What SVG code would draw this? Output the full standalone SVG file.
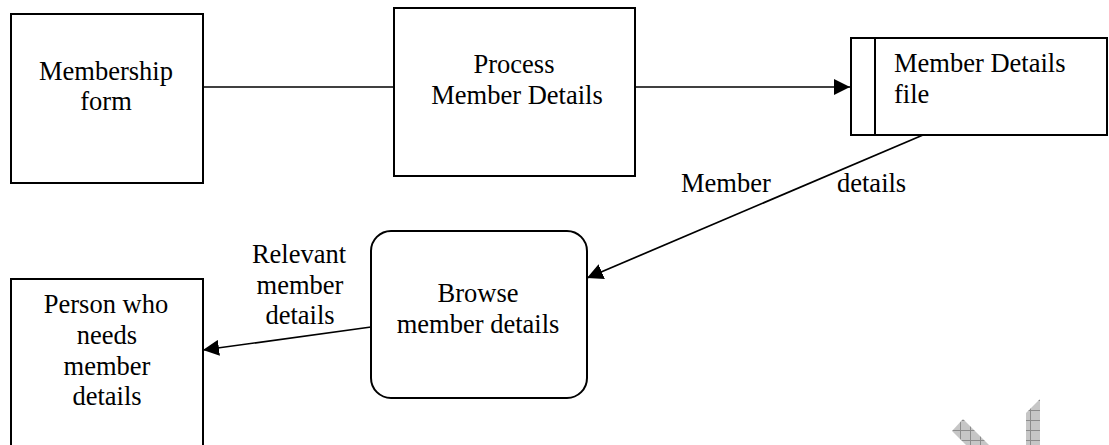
<svg xmlns="http://www.w3.org/2000/svg" width="1109" height="445" viewBox="0 0 1109 445">
  <style>
    .box { fill: #ffffff; stroke: #000000; stroke-width: 2; }
    .flow { fill: none; stroke: #000000; stroke-width: 1.7; }
    .lbl { font-family: "Liberation Serif", "Times New Roman", serif; font-size: 26.5px; fill: #000000; }
    .mid { text-anchor: middle; }
  </style>
  <defs>
    <marker id="arrow" viewBox="0 0 16 16" refX="16" refY="8" markerWidth="16" markerHeight="16" markerUnits="userSpaceOnUse" orient="auto">
      <path d="M0,0 L16,8 L0,16 Z" fill="#000000"/>
    </marker>
    <pattern id="hatch" width="10" height="10" patternUnits="userSpaceOnUse">
      <rect width="10" height="10" fill="#c6c6c6"/>
      <path d="M0,0.5 H10 M0.5,0 V10" stroke="#8c8c8c" stroke-width="1"/>
    </pattern>
  </defs>
  <rect width="1109" height="445" fill="#ffffff"/>

  <!-- connectors -->
  <g id="connectors">
    <line class="flow" x1="203" y1="87" x2="394" y2="87"/>
    <line class="flow" x1="635" y1="87" x2="850" y2="87" marker-end="url(#arrow)"/>
    <line class="flow" x1="923" y1="135" x2="587" y2="278" marker-end="url(#arrow)"/>
    <line class="flow" x1="371" y1="327" x2="203" y2="350" marker-end="url(#arrow)"/>
  </g>

  <!-- flow labels -->
  <g id="flow-labels">
    <text class="lbl" x="681" y="192">Member</text>
    <text class="lbl" x="837" y="192">details</text>
    <text class="lbl mid" x="299" y="263">Relevant</text>
    <text class="lbl mid" x="300" y="294">member</text>
    <text class="lbl mid" x="300" y="324">details</text>
  </g>

  <g id="membership-form">
    <rect class="box" x="11" y="14" width="192" height="169"/>
    <text class="lbl mid" x="106" y="80">Membership</text>
    <text class="lbl mid" x="106" y="110">form</text>
  </g>

  <g id="process-member-details">
    <rect class="box" x="394" y="8" width="241" height="168"/>
    <text class="lbl mid" x="514" y="73">Process</text>
    <text class="lbl mid" x="517" y="104">Member Details</text>
  </g>

  <g id="member-details-file">
    <rect class="box" x="851" y="38" width="256" height="97"/>
    <line class="box" x1="875" y1="38" x2="875" y2="135"/>
    <text class="lbl" x="894" y="72">Member Details</text>
    <text class="lbl" x="894" y="103">file</text>
  </g>

  <g id="browse-member-details">
    <rect class="box" x="371" y="231" width="216" height="167" rx="20" ry="20"/>
    <text class="lbl mid" x="478" y="302">Browse</text>
    <text class="lbl mid" x="478" y="333">member details</text>
  </g>

  <g id="person-who-needs">
    <path class="box" d="M11,447 V279 H203 V447"/>
    <text class="lbl mid" x="106" y="313">Person who</text>
    <text class="lbl mid" x="107" y="344">needs</text>
    <text class="lbl mid" x="107" y="375">member</text>
    <text class="lbl mid" x="107" y="405">details</text>
  </g>

  <!-- hatched marks in the lower right corner -->
  <g id="corner-marks">
    <polygon points="952,431 963,419 989,445 966,445" fill="url(#hatch)"/>
    <polygon points="1026,413 1040,399 1040,445 1026,445" fill="url(#hatch)"/>
  </g>
</svg>
